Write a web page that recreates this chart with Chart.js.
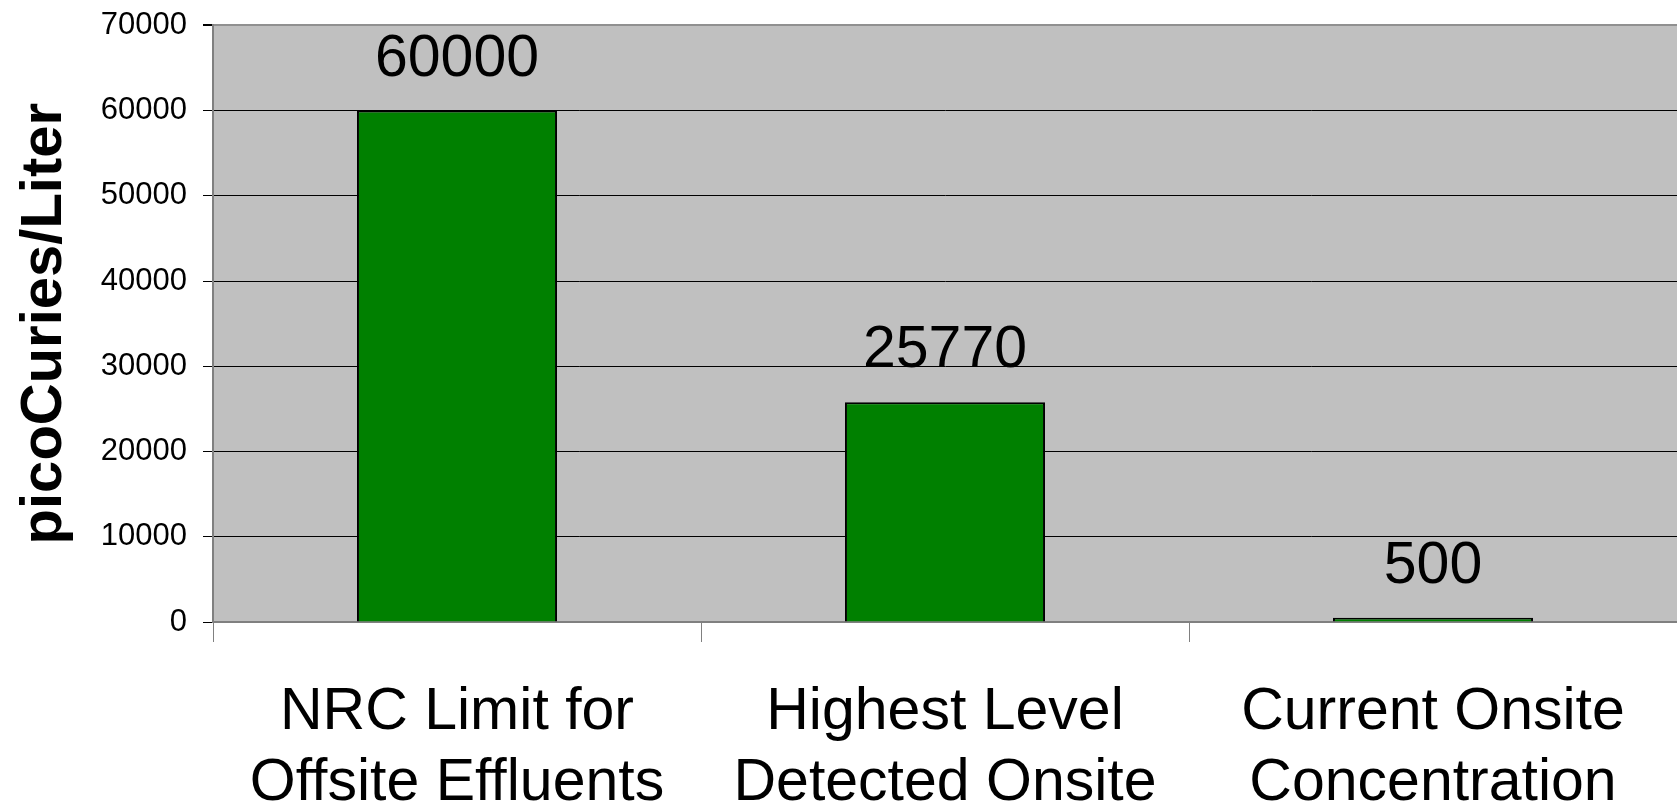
<!DOCTYPE html>
<html>
<head>
<meta charset="utf-8">
<script src="https://cdn.jsdelivr.net/npm/chart.js@4.4.1/dist/chart.umd.min.js"></script>
<style>
  html, body { margin: 0; padding: 0; background: #fff; }
  canvas { display: block; }
</style>
</head>
<body>
<canvas id="tritiumChart" width="1677" height="810"></canvas>
<script>
const categories = [
  ['NRC Limit for', 'Offsite Effluents'],
  ['Highest Level', 'Detected Onsite'],
  ['Current Onsite', 'Concentration']
];
const values = [60000, 25770, 500];
const yTicks = [0, 10000, 20000, 30000, 40000, 50000, 60000, 70000];

const FONT = "'Liberation Sans', Arial, sans-serif";

// grey plot area behind the bars
const plotBackground = {
  id: 'plotBackground',
  beforeDraw(chart) {
    const a = chart.chartArea;
    const c = chart.ctx;
    c.save();
    c.fillStyle = '#C0C0C0';
    c.fillRect(a.left, a.top, a.right - a.left, a.bottom - a.top);
    c.restore();
  }
};

// value labels above each bar
const valueLabels = {
  id: 'valueLabels',
  afterDatasetsDraw(chart) {
    const c = chart.ctx;
    const meta = chart.getDatasetMeta(0);
    c.save();
    c.font = '59px ' + FONT;
    c.fillStyle = '#000';
    c.textAlign = 'center';
    c.textBaseline = 'alphabetic';
    meta.data.forEach((bar, i) => {
      c.fillText(String(values[i]), bar.x, bar.y - 35);
    });
    c.restore();
  }
};

const ctx = document.getElementById('tritiumChart').getContext('2d');

new Chart(ctx, {
  type: 'bar',
  data: {
    labels: categories,
    datasets: [{
      data: values,
      backgroundColor: '#008000',
      borderColor: '#000000',
      borderWidth: 2,
      categoryPercentage: 1.0,
      barPercentage: 0.41
    }]
  },
  options: {
    responsive: false,
    devicePixelRatio: 1,
    animation: false,
    layout: { padding: { top: 24, right: 0, bottom: 0, left: 0 } },
    plugins: {
      legend: { display: false },
      tooltip: { enabled: false },
      title: { display: false }
    },
    scales: {
      x: {
        offset: true,
        grid: {
          drawOnChartArea: false,
          drawTicks: true,
          tickLength: 20,
          color: '#808080',
          lineWidth: 1
        },
        border: { color: '#808080', width: 2 },
        ticks: {
          color: '#000',
          padding: 36,
          maxRotation: 0,
          autoSkip: false,
          font: { family: FONT, size: 59, lineHeight: 1.19 }
        },
        afterFit(scale) { scale.height = 188; }
      },
      y: {
        min: 0,
        max: 70000,
        afterBuildTicks(scale) {
          scale.ticks = yTicks.map(v => ({ value: v }));
        },
        grid: {
          color: (c) => (c.tick && c.tick.value === 70000 ? '#909090' : '#000000'),
          lineWidth: (c) => (c.tick && c.tick.value === 70000 ? 2 : 1),
          tickLength: 10,
          tickColor: '#000000'
        },
        border: { color: '#808080', width: 2 },
        ticks: {
          color: '#000',
          padding: 16,
          font: { family: FONT, size: 31, lineHeight: 0.6 },
          callback: (v) => String(v)
        },
        title: {
          display: true,
          text: 'picoCuries/Liter',
          color: '#000',
          font: { family: FONT, size: 58, weight: 'bold', lineHeight: 1.2 },
          padding: { top: 10, bottom: 0 }
        },
        afterFit(scale) { scale.width = 213; }
      }
    }
  },
  plugins: [plotBackground, valueLabels]
});
</script>
</body>
</html>
